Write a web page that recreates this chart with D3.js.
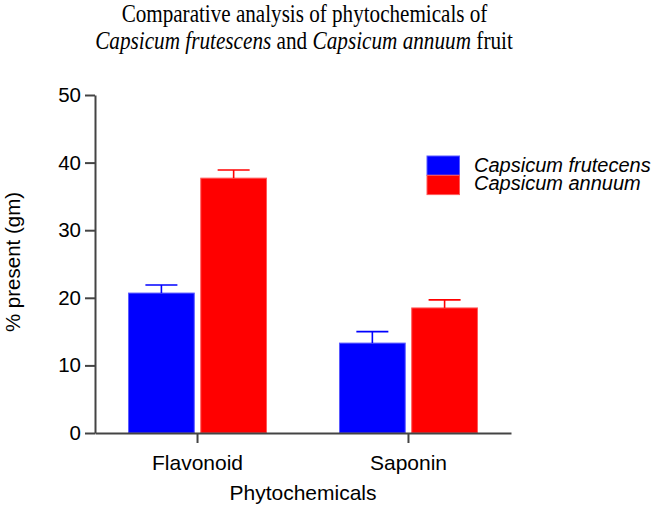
<!DOCTYPE html>
<html>
<head>
<meta charset="utf-8">
<script src="https://cdn.jsdelivr.net/npm/d3@7"></script>
<style>
  body { margin: 0; background: #fff; }
  text { font-family: Arial, "Liberation Sans", sans-serif; fill: #000; }
  .title { font-family: "Times New Roman", "Liberation Serif", serif; }
</style>
</head>
<body>
<div id="chart"></div>
<script>
// data
var categories = ["Flavonoid", "Saponin"];
var seriesNames = ["Capsicum frutecens", "Capsicum annuum"];
var frutescensMean = [20.7, 13.3];
var frutescensErr = [1.2, 1.7];
var annuumMean = [37.7, 18.5];
var annuumErr = [1.2, 1.2];
var yTicks = [0, 10, 20, 30, 40, 50];
var colors = ["#0000ff", "#ff0000"];

var W = 664, H = 507;
var margin = {top: 95, right: 153, bottom: 74, left: 95},
    width = W - margin.left - margin.right,
    height = H - margin.top - margin.bottom;

var svg = d3.select("#chart").append("svg")
    .attr("width", W)
    .attr("height", H);

// build rows from the arrays
var rows = categories.map(function(c, i) {
  return {cat: c, vals: [
    {s: 0, v: frutescensMean[i], e: frutescensErr[i]},
    {s: 1, v: annuumMean[i], e: annuumErr[i]}
  ]};
});

var x0 = d3.scaleBand().domain(categories).range([0, width])
    .paddingInner(0.346).paddingOuter(0.159);
var x1 = d3.scaleBand().domain([0, 1]).range([0, x0.bandwidth()]).paddingInner(0.09);
var y = d3.scaleLinear().domain([0, 50]).range([height, 0]);

var g = svg.append("g").attr("transform", "translate(" + margin.left + "," + margin.top + ")");

var groups = g.selectAll(".grp").data(rows).enter().append("g")
    .attr("class", "grp")
    .attr("transform", function(d) { return "translate(" + x0(d.cat) + ",0)"; });

groups.selectAll("rect").data(function(d) { return d.vals; }).enter().append("rect")
    .attr("x", function(d) { return x1(d.s); })
    .attr("y", function(d) { return y(d.v); })
    .attr("width", x1.bandwidth())
    .attr("height", function(d) { return y(0) - y(d.v); })
    .attr("fill", function(d) { return colors[d.s]; })
    .attr("stroke", function(d) { return d.s == 0 ? "#5a5aff" : "#ff5a5a"; })
    .attr("stroke-width", 1);

// error bars (upper only)
var errs = groups.selectAll(".err").data(function(d) { return d.vals; }).enter().append("g")
    .attr("class", "err")
    .attr("stroke", function(d) { return colors[d.s]; })
    .attr("stroke-width", 1.6);
errs.append("line")
    .attr("x1", function(d) { return x1(d.s) + x1.bandwidth() / 2; })
    .attr("x2", function(d) { return x1(d.s) + x1.bandwidth() / 2; })
    .attr("y1", function(d) { return y(d.v); })
    .attr("y2", function(d) { return y(d.v + d.e); });
errs.append("line")
    .attr("x1", function(d) { return x1(d.s) + x1.bandwidth() / 2 - 16; })
    .attr("x2", function(d) { return x1(d.s) + x1.bandwidth() / 2 + 16; })
    .attr("y1", function(d) { return y(d.v + d.e); })
    .attr("y2", function(d) { return y(d.v + d.e); });

// axes
var yAxis = g.append("g")
    .call(d3.axisLeft(y).tickValues(yTicks).tickSize(10).tickSizeOuter(0).tickPadding(4));
var xAxis = g.append("g")
    .attr("transform", "translate(0," + height + ")")
    .call(d3.axisBottom(x0).tickSize(10).tickSizeOuter(0).tickPadding(12));

[yAxis, xAxis].forEach(function(a) {
  a.select(".domain").attr("stroke", "#444").attr("stroke-width", 2);
  a.selectAll(".tick line").attr("stroke", "#444").attr("stroke-width", 2);
});
yAxis.selectAll(".tick text").attr("font-size", 20.5).attr("fill", "#000")
    .attr("font-family", "Arial, 'Liberation Sans', sans-serif");
xAxis.selectAll(".tick text").attr("font-size", 21).attr("fill", "#000")
    .attr("font-family", "Arial, 'Liberation Sans', sans-serif");

// axis titles
svg.append("text")
    .attr("x", 303).attr("y", 500)
    .attr("text-anchor", "middle")
    .attr("font-size", 21)
    .text("Phytochemicals");

svg.append("text")
    .attr("transform", "translate(20,262) rotate(-90)")
    .attr("text-anchor", "middle")
    .attr("font-size", 20.5)
    .text("% present (gm)");

// legend
var legend = svg.append("g").attr("transform", "translate(427,156)");
legend.selectAll("rect").data(seriesNames).enter().append("rect")
    .attr("x", 0)
    .attr("y", function(d, i) { return i * 19.3; })
    .attr("width", 32.5)
    .attr("height", 19.3)
    .attr("fill", function(d, i) { return colors[i]; })
    .attr("stroke", function(d, i) { return i == 0 ? "#5a5aff" : "#ff5a5a"; });
legend.selectAll("text").data(seriesNames).enter().append("text")
    .attr("x", 47)
    .attr("y", function(d, i) { return 15.5 + i * 18.5; })
    .attr("font-size", 20)
    .attr("font-style", "italic")
    .text(function(d) { return d; });

// title, squeezed to the width seen in the figure
function fitLine(t, cx, target) {
  var w = t.node().getComputedTextLength();
  t.attr("transform", "translate(" + cx + "," + t.attr("data-y") + ") scale(" + (target / w) + ",1)");
}
var t1 = svg.append("text").attr("class", "title")
    .attr("data-y", 22).attr("text-anchor", "middle").attr("font-size", 25)
    .text("Comparative analysis of phytochemicals of");
fitLine(t1, 304.5, 366);

var t2 = svg.append("text").attr("class", "title")
    .attr("data-y", 49).attr("text-anchor", "middle").attr("font-size", 25);
t2.append("tspan").attr("font-style", "italic").text("Capsicum frutescens");
t2.append("tspan").text(" and ");
t2.append("tspan").attr("font-style", "italic").text("Capsicum annuum");
t2.append("tspan").text(" fruit");
fitLine(t2, 304, 418);
</script>
</body>
</html>
